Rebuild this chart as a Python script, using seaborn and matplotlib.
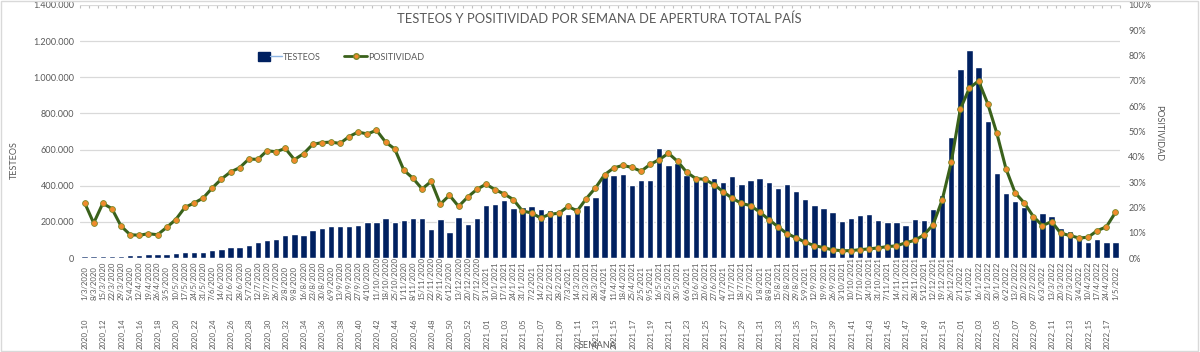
import numpy as np
import pandas as pd
import seaborn as sns
import matplotlib.pyplot as plt
import matplotlib.transforms as mtransforms
from matplotlib.patches import Patch, Rectangle
from matplotlib.lines import Line2D
from matplotlib.legend_handler import HandlerTuple
from matplotlib.ticker import FuncFormatter, PercentFormatter

# epidemiological weeks 2020_10 .. 2022_18
semanas = ([f"2020_{w:02d}" for w in range(10, 54)]
           + [f"2021_{w:02d}" for w in range(1, 53)]
           + [f"2022_{w:02d}" for w in range(1, 19)])
fechas = [f"{d.day}/{d.month}/{d.year}"
          for d in pd.date_range("2020-03-01", periods=len(semanas), freq="7D")]

# tests per week (thousands)
testeos_miles = [
    10, 12, 12, 11, 11, 17, 17, 22, 22, 22,
    26, 31, 33, 33, 44, 52, 61, 61, 70, 87,
    100, 105, 126, 133, 129, 155, 164, 175, 175, 175,
    181, 198, 201, 220, 198, 209, 220, 220, 159, 216,
    146, 225, 188, 223, 292, 297, 320, 279, 283, 288,
    271, 266, 268, 244, 283, 295, 336, 452, 462, 464,
    406, 430, 434, 606, 512, 526, 462, 438, 425, 441,
    421, 452, 412, 430, 441, 423, 390, 408, 373, 327,
    294, 275, 253, 205, 220, 240, 246, 211, 201, 201,
    183, 214, 211, 270, 349, 667, 1045, 1152, 1056, 759,
    471, 362, 318, 284, 216, 247, 235, 166, 150, 129,
    89, 103, 87, 87,
]

# positivity (%)
positividad = [
    21.9, 13.8, 21.6, 19.5, 12.6, 9.2, 9.0, 9.6, 9.2, 12.1,
    15.2, 20.0, 21.7, 23.7, 27.7, 31.2, 34.0, 35.7, 39.1, 39.0,
    42.4, 42.0, 43.3, 38.9, 41.2, 44.9, 45.6, 45.8, 45.3, 48.0,
    49.8, 49.0, 50.5, 45.8, 43.1, 34.7, 31.5, 27.3, 30.3, 21.3,
    24.8, 20.4, 24.1, 27.1, 29.2, 27.0, 25.3, 23.1, 18.6, 17.8,
    15.8, 17.3, 17.7, 20.4, 18.6, 23.5, 27.7, 32.9, 35.6, 36.6,
    35.8, 34.3, 37.0, 38.9, 41.4, 38.2, 33.9, 31.4, 31.1, 29.0,
    26.2, 23.6, 21.6, 20.7, 18.2, 15.2, 12.4, 9.6, 8.0, 6.2,
    4.9, 4.1, 3.2, 2.9, 2.9, 3.3, 3.6, 4.0, 4.5, 4.8,
    6.0, 7.0, 9.1, 13.1, 22.8, 37.8, 58.9, 67.2, 70.0, 61.0,
    49.3, 35.3, 25.8, 21.8, 16.4, 12.8, 14.4, 9.8, 8.9, 7.9,
    8.2, 10.8, 12.3, 18.0,
]

df = pd.DataFrame({
    "semana": semanas,
    "fecha": fechas,
    "testeos": np.array(testeos_miles) * 1000,
    "positividad": np.array(positividad) / 100,
})
df["pos"] = np.arange(len(df))

NAVY = "#002060"
GREEN = "#3A611B"
ORANGE = "#F08A2C"
GREY = "#595959"

sns.set_style("white")
plt.rcParams["font.family"] = ["Lato", "DejaVu Sans"]

fig = plt.figure(figsize=(12, 3.52), dpi=100)
ax = fig.add_axes([80 / 1200, 1 - 258 / 352, 1040 / 1200, 253 / 352])

sns.barplot(data=df, x="semana", y="testeos", order=semanas, color=NAVY,
            saturation=1, width=0.7, ax=ax)
ax.set_xlim(-0.5, len(df) - 0.5)
ax.set_ylim(0, 1400000)
ax.set_yticks(np.arange(0, 1400001, 200000))
ax.yaxis.set_major_formatter(FuncFormatter(lambda v, p: f"{int(v):,}".replace(",", ".")))
ax.grid(axis="y", color="#D9D9D9", lw=0.9)
ax.set_axisbelow(True)
ax.tick_params(axis="x", length=0, labelbottom=False)
ax.tick_params(axis="y", length=0, labelsize=6.5, labelcolor=GREY, pad=4)
ax.set_xlabel("")
ax.set_ylabel("")
for s in ax.spines.values():
    s.set_visible(False)

ax2 = ax.twinx()
sns.lineplot(data=df, x="pos", y="positividad", ax=ax2, color=GREEN, lw=2.2,
             marker="o", markersize=4.2, markerfacecolor=ORANGE,
             markeredgecolor="#7A8A2A", markeredgewidth=0.6)
ax2.set_ylim(0, 1)
ax2.set_yticks(np.arange(0, 1.01, 0.1))
ax2.yaxis.set_major_formatter(PercentFormatter(1, decimals=0))
ax2.tick_params(axis="y", length=0, labelsize=6.5, labelcolor=GREY, pad=6)
ax2.set_xlabel("")
ax2.set_ylabel("")
for s in ax2.spines.values():
    s.set_visible(False)

# small category ticks along the top edge
top = ax.secondary_xaxis("top")
top.set_xticks(np.arange(-0.5, len(df), 1))
top.tick_params(direction="in", length=2.5, color="#BFBFBF", labeltop=False)
for s in top.spines.values():
    s.set_visible(False)

# two-row category labels
tr = mtransforms.blended_transform_factory(ax.transData, fig.transFigure)
for i, f in enumerate(df["fecha"]):
    ax.text(i, 1 - 300 / 352, f, transform=tr, rotation=90, ha="center",
            va="bottom", fontsize=5.6, color=GREY)
for i, w in enumerate(df["semana"]):
    if i % 2 == 0:
        ax.text(i, 1 - 349 / 352, w, transform=tr, rotation=90, ha="center",
                va="bottom", fontsize=5.6, color=GREY)

fig.text(598 / 1200, 1 - 345 / 352, "SEMANA", ha="center", va="center",
         fontsize=6.5, color=GREY)
fig.text(14 / 1200, 1 - 160 / 352, "TESTEOS", rotation=90, ha="center",
         va="center", fontsize=6.5, color=GREY)
fig.text(1159 / 1200, 1 - 133 / 352, "POSITIVIDAD", rotation=270, ha="center",
         va="center", fontsize=6.5, color=GREY)
fig.text(599 / 1200, 1 - 19 / 352,
         "TESTEOS Y POSITIVIDAD POR SEMANA DE APERTURA TOTAL PAÍS",
         ha="center", va="center", fontsize=9.4, color=GREY)

h_bar = (Patch(facecolor=NAVY, edgecolor=NAVY), Line2D([], [], color="#8DB4E2", lw=1))
h_line = Line2D([], [], color=GREEN, lw=2, marker="o", markersize=4,
                markerfacecolor=ORANGE, markeredgecolor="#7A8A2A")
fig.legend([h_bar, h_line], ["TESTEOS", "POSITIVIDAD"],
           handler_map={tuple: HandlerTuple(ndivide=None, pad=0)},
           loc="center left", bbox_to_anchor=(250 / 1200, 1 - 57 / 352),
           ncol=2, frameon=False, fontsize=6.5, handlelength=2.6,
           handleheight=1.0, handletextpad=0.1, columnspacing=2.6,
           labelcolor=GREY)

fig.patches.append(Rectangle((0.001, 0.004), 0.997, 0.994, fill=False,
                             edgecolor="#D9D9D9", lw=1, transform=fig.transFigure))

fig.savefig("out.png", dpi=100)
